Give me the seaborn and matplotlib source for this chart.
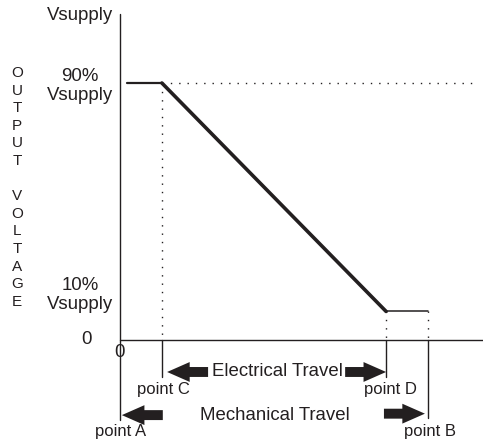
import matplotlib
matplotlib.use("Agg")
import matplotlib.pyplot as plt
from matplotlib.patches import FancyArrowPatch, ArrowStyle
import seaborn as sns
import pandas as pd

# travel positions, % of mechanical travel
point_names = ["point A", "point C", "point D", "point B"]
point_pos = [0, 13.6, 86.4, 100]

# output voltage curve, % of Vsupply
curve_x = [2.3, 13.6, 86.4, 100]
curve_y = [90, 90, 10, 10]

ytick_labels = ["0", "10%\nVsupply", "90%\nVsupply", "Vsupply"]
axis_letters = list("OUTPUT") + [""] + list("VOLTAGE")

ink = "#231f20"

sns.set_theme(style="white")
plt.rcParams['font.family'] = ['Liberation Sans', 'DejaVu Sans']

fig = plt.figure(figsize=(4.83, 4.46), dpi=100)
ax = fig.add_axes([0, 0, 1, 1])
ax.set_xlim(-38.96, 117.86)
ax.set_ylim(-37.12, 119.07)
ax.axis("off")

A, C, D, B = point_pos

# axes lines
ax.plot([A, A], [-28, 114.2], color=ink, lw=1.0)
ax.plot([A, 117.86], [0, 0], color=ink, lw=1.0)

# output curve (three pieces with different weight)
seg = pd.DataFrame({"x": curve_x, "y": curve_y})
sns.lineplot(data=seg.iloc[0:2], x="x", y="y", ax=ax, color=ink, lw=1.6, sort=False)
sns.lineplot(data=seg.iloc[1:3], x="x", y="y", ax=ax, color=ink, lw=2.6, sort=False)
sns.lineplot(data=seg.iloc[2:4], x="x", y="y", ax=ax, color=ink, lw=1.1, sort=False)

# dotted guides
dots = dict(color=ink, lw=1.0, linestyle=(0, (1, 5.0)))
ax.plot([C, 115.3], [curve_y[1], curve_y[1]], **dots)
ax.plot([C, C], [curve_y[1], 0], **dots)
ax.plot([D, D], [curve_y[2], 0], **dots)
ax.plot([B, B], [curve_y[3], 0], **dots)

# solid drops below the axis
ax.plot([C, C], [0, -13], color=ink, lw=1.0)
ax.plot([D, D], [0, -13], color=ink, lw=1.0)
ax.plot([B, B], [0, -27.3], color=ink, lw=1.0)

# fat arrows
style = ArrowStyle.Simple(head_length=1.25, head_width=1.1, tail_width=0.55)
arrow_len = 13.3
def fat_arrow(x0, x1, y):
    ax.add_patch(FancyArrowPatch((x0, y), (x1, y), arrowstyle=style,
                                 mutation_scale=13, color=ink, lw=0,
                                 shrinkA=0, shrinkB=0))

fat_arrow(C + 1.7 + arrow_len, C + 1.7, -11.2)
fat_arrow(D - arrow_len, D, -11.2)
fat_arrow(A + 0.6 + arrow_len, A + 0.6, -26.3)
fat_arrow(B - 1.0 - arrow_len, B - 1.0, -25.8)

# texts
big = 13.4
ax.text(51.0, -11.2, "Electrical Travel", ha="center", va="center", fontsize=big, color=ink)
ax.text(50.3, -26.3, "Mechanical Travel", ha="center", va="center", fontsize=big, color=ink)

label_xy = {"point A": (0.3, -31.9), "point C": (14.0, -17.5),
            "point D": (87.7, -17.5), "point B": (100.6, -31.9)}
for name in point_names:
    x, y = label_xy[name]
    ax.text(x, y, name, ha="center", va="center", fontsize=12, color=ink)

ytick_xy = [(-11.0, 0.35), (-13.0, 15.8), (-13.0, 88.9), (-13.0, 113.8)]
for lab, (x, y) in zip(ytick_labels, ytick_xy):
    ax.text(x, y, lab, ha="center", va="center", multialignment="center",
            fontsize=big, color=ink, linespacing=1.15)
ax.text(0, -4.55, "0", ha="center", va="center", fontsize=big, color=ink)

# stacked y-axis title
for i, ch in enumerate(axis_letters):
    py = 73 + 17.6 * i
    ax.text(-33.4, (340 - py) / 2.8556, ch, ha="center", va="center",
            fontsize=11, color=ink)

fig.savefig("out.png", dpi=100)
